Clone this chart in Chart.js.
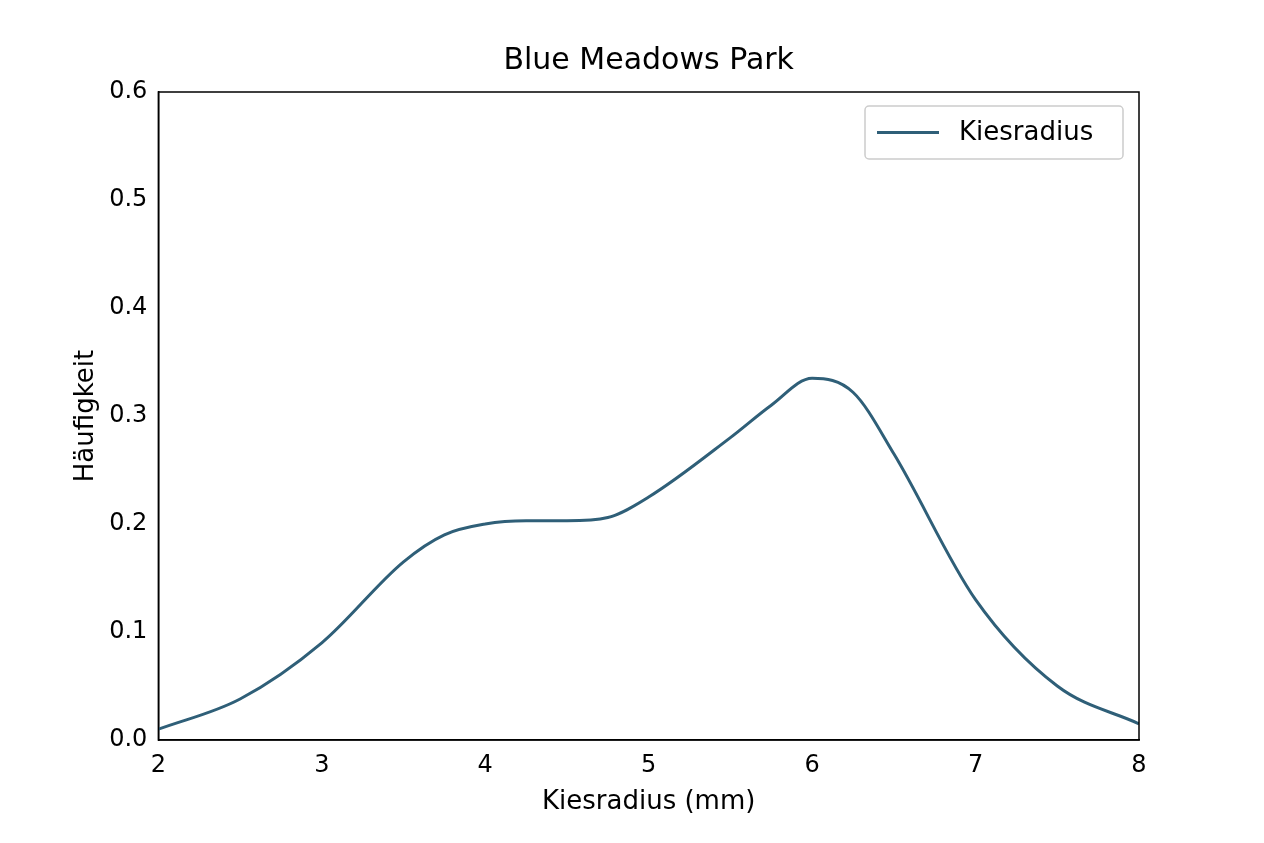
<!DOCTYPE html>
<html><head><meta charset="utf-8">
<script src="https://cdn.jsdelivr.net/npm/chart.js@4"></script>
<style>html,body{margin:0;background:#fff}#w{width:1264px;height:843px}</style>
</head><body><div id="w"><canvas id="c"></canvas></div>
<script>
const xValues=[2,2.5,3,3.5,3.75,4,4.25,4.5,4.75,5,5.5,5.75,6,6.25,6.5,7,7.5,8];
const yValues=[0.01,0.038,0.09,0.165,0.19,0.2,0.203,0.203,0.206,0.225,0.28,0.31,0.335,0.322,0.265,0.13,0.05,0.015];
const seriesName='Kiesradius';
const chartTitle='Blue Meadows Park';
const F='"DejaVu Sans", sans-serif';
const deco={id:'deco',afterDraw(ch){const a=ch.chartArea,c=ch.ctx;c.save();
c.strokeStyle='#000';c.lineWidth=1.5;c.strokeRect(a.left,a.top,a.right-a.left,a.bottom-a.top);
c.fillStyle='#000';c.font='30px '+F;c.textAlign='center';c.textBaseline='middle';c.fillText(chartTitle,(a.left+a.right)/2,a.top-31);
const ds=ch.data.datasets[0];const bx=a.right-274,by=a.top+14,bw=258,bh=53;
c.fillStyle='#fff';c.strokeStyle='#ccc';c.beginPath();c.roundRect(bx,by,bw,bh,4);c.fill();c.stroke();
c.strokeStyle=ds.borderColor;c.lineWidth=3;c.beginPath();c.moveTo(bx+12,by+bh/2);c.lineTo(bx+74,by+bh/2);c.stroke();
c.fillStyle='#000';c.font='26px '+F;c.textAlign='left';c.fillText(ds.label,bx+94,by+bh/2+1);
c.restore();}};
new Chart(document.getElementById('c'),{type:'line',
data:{datasets:[{label:seriesName,data:xValues.map((x,i)=>({x,y:yValues[i]})),borderColor:'#2f5f78',backgroundColor:'#2f5f78',borderWidth:3,pointRadius:0,cubicInterpolationMode:'monotone'}]},
options:{responsive:true,maintainAspectRatio:false,animation:false,
layout:{padding:{left:67,right:125,top:92,bottom:21}},
plugins:{title:{display:false},legend:{display:false},tooltip:{enabled:false}},
scales:{x:{type:'linear',min:2,max:8,ticks:{stepSize:1,color:'#000',font:{family:F,size:24}},grid:{display:false,tickLength:8,tickColor:'#000'},border:{color:'#000',width:1.5},title:{display:true,text:'Kiesradius (mm)',color:'#000',font:{family:F,size:26}}},
y:{min:0,max:0.6,ticks:{stepSize:0.1,color:'#000',font:{family:F,size:24},callback:v=>v.toFixed(1)},grid:{display:false,tickLength:8,tickColor:'#000'},border:{color:'#000',width:1.5},title:{display:true,text:'Häufigkeit',color:'#000',font:{family:F,size:26}}}}},
plugins:[deco]});
</script></body></html>
